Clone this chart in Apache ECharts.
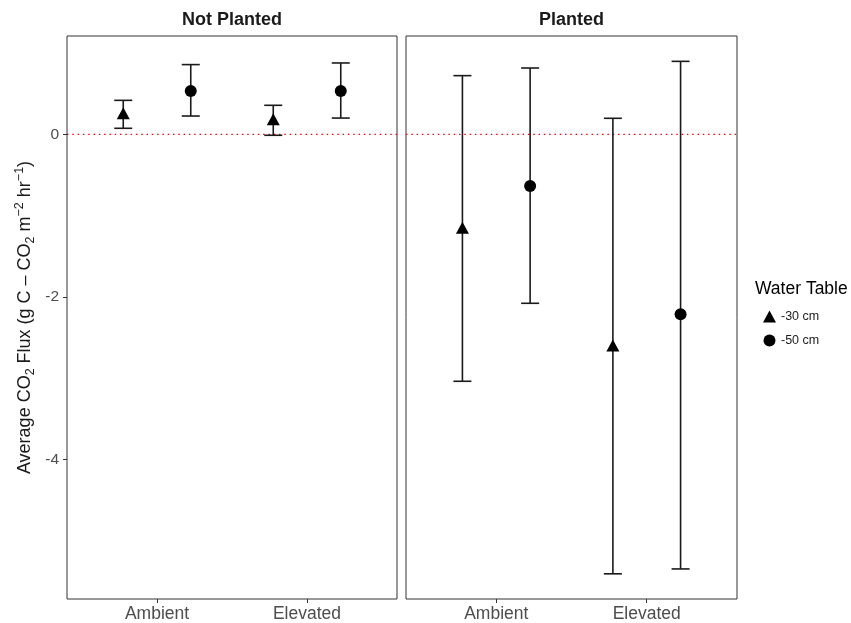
<!DOCTYPE html>
<html>
<head>
<meta charset="utf-8">
<script src="https://cdn.jsdelivr.net/npm/echarts@6/dist/echarts.min.js"></script>
<style>html,body{margin:0;padding:0;background:#fff;}#chart{width:851px;height:623px;}</style>
</head>
<body>
<div id="chart"></div>
<script>
// ---- data ----
const categories = ['Ambient', 'Elevated'];
const panels = ['Not Planted', 'Planted'];
const waterTables = ['-30 cm', '-50 cm'];
const yTicks = [-4, -2, 0];

// Not Planted
const notPlantedMean30 = [0.26, 0.185];
const notPlantedLow30 = [0.074, -0.012];
const notPlantedHigh30 = [0.418, 0.357];
const notPlantedMean50 = [0.533, 0.533];
const notPlantedLow50 = [0.225, 0.20];
const notPlantedHigh50 = [0.858, 0.878];
// Planted
const plantedMean30 = [-1.15, -2.60];
const plantedLow30 = [-3.04, -5.41];
const plantedHigh30 = [0.722, 0.197];
const plantedMean50 = [-0.636, -2.215];
const plantedLow50 = [-2.08, -5.35];
const plantedHigh50 = [0.816, 0.898];

const panelData = [
  { mean: [notPlantedMean30, notPlantedMean50], low: [notPlantedLow30, notPlantedLow50], high: [notPlantedHigh30, notPlantedHigh50] },
  { mean: [plantedMean30, plantedMean50], low: [plantedLow30, plantedLow50], high: [plantedHigh30, plantedHigh50] }
];

const dodge = [-0.225, 0.225];
const symbols = ['triangle', 'circle'];
const symbolSizes = [[13, 12], 12];
const ink = '#000000';
const FONT = 'Liberation Sans';

const chart = echarts.init(document.getElementById('chart'), null, { renderer: 'canvas' });

const grids = [
  { left: 67, right: 454, top: 36, bottom: 24, show: true, borderColor: '#333333', borderWidth: 1, containLabel: false },
  { left: 406, right: 114, top: 36, bottom: 24, show: true, borderColor: '#333333', borderWidth: 1, containLabel: false }
];

const xAxes = grids.map((g, gi) => ({
  type: 'value', gridIndex: gi, min: 0.4, max: 2.6, position: 'bottom',
  splitLine: { show: false },
  axisLine: { show: false, onZero: false },
  axisTick: { show: true, length: 4, customValues: [1, 2], lineStyle: { color: '#333333', width: 1 } },
  axisLabel: { show: true, customValues: [1, 2], formatter: v => categories[Math.round(v) - 1] || '',
    color: '#4d4d4d', fontSize: 17.5, fontFamily: FONT, margin: 6 }
}));

const yTitle = '{a|Average CO}{sub|2}{a| Flux (g C \u2013 CO}{sub|2}{a| m}{sup|\u22122}{a| hr}{sup|\u22121}{a|)}';

const yAxes = grids.map((g, gi) => ({
  type: 'value', gridIndex: gi, min: -5.72, max: 1.21,
  splitLine: { show: false },
  axisLine: { show: false, onZero: false },
  axisTick: { show: gi === 0, length: 4, customValues: yTicks, lineStyle: { color: '#333333', width: 1 } },
  axisLabel: { show: gi === 0, customValues: yTicks, color: '#4d4d4d', fontSize: 15.5, fontFamily: FONT, margin: 8,
    formatter: v => String(v) },
  name: gi === 0 ? yTitle : '',
  nameLocation: 'middle', nameRotate: 90, nameGap: 30,
  nameTextStyle: {
    fontFamily: FONT,
    rich: {
      a: { fontSize: 18, color: '#1a1a1a', fontFamily: FONT, lineHeight: 24 },
      sub: { fontSize: 12.5, color: '#1a1a1a', fontFamily: FONT, verticalAlign: 'bottom', lineHeight: 24 },
      sup: { fontSize: 12.5, color: '#1a1a1a', fontFamily: FONT, verticalAlign: 'top', lineHeight: 24 }
    }
  }
}));

const series = [];
panels.forEach((pName, pi) => {
  // zero reference line
  series.push({
    type: 'line', xAxisIndex: pi, yAxisIndex: pi, silent: true, symbol: 'none',
    data: [[0.4, 0], [2.6, 0]],
    lineStyle: { color: '#ff0000', width: 1.3, type: [1.5, 3.8] },
    z: 1
  });
  waterTables.forEach((wName, wi) => {
    const d = panelData[pi];
    const ebData = categories.map((c, ci) => [ci + 1 + dodge[wi], d.low[wi][ci], d.high[wi][ci]]);
    series.push({
      type: 'custom', xAxisIndex: pi, yAxisIndex: pi, silent: true,
      encode: { x: 0, y: [1, 2] },
      data: ebData,
      renderItem: (params, api) => {
        const x = api.value(0), lo = api.value(1), hi = api.value(2);
        const pLo = api.coord([x, lo]);
        const pHi = api.coord([x, hi]);
        const hw = 9;
        const st = { stroke: '#1a1a1a', lineWidth: 1.6 };
        return {
          type: 'group',
          children: [
            { type: 'line', shape: { x1: pLo[0], y1: pLo[1], x2: pHi[0], y2: pHi[1] }, style: st },
            { type: 'line', shape: { x1: pLo[0] - hw, y1: pLo[1], x2: pLo[0] + hw, y2: pLo[1] }, style: st },
            { type: 'line', shape: { x1: pHi[0] - hw, y1: pHi[1], x2: pHi[0] + hw, y2: pHi[1] }, style: st }
          ]
        };
      },
      z: 2
    });
    series.push({
      type: 'scatter', name: wName, xAxisIndex: pi, yAxisIndex: pi,
      symbol: symbols[wi], symbolSize: symbolSizes[wi],
      itemStyle: { color: ink, opacity: 1 },
      data: categories.map((c, ci) => [ci + 1 + dodge[wi], d.mean[wi][ci]]),
      z: 3
    });
  });
});

const option = {
  animation: false,
  backgroundColor: '#ffffff',
  grid: grids,
  xAxis: xAxes,
  yAxis: yAxes,
  legend: {
    data: [
      { name: waterTables[0], icon: 'triangle' },
      { name: waterTables[1], icon: 'circle' }
    ],
    orient: 'vertical', left: 763, top: 310, padding: 0,
    itemWidth: 13, itemHeight: 12, itemGap: 11,
    selectedMode: false,
    textStyle: { fontSize: 12.5, color: '#1a1a1a', fontFamily: FONT },
    itemStyle: { color: ink }
  },
  graphic: [
    { type: 'text', left: 755, top: 280, style: { text: 'Water Table', fontSize: 17.5, fill: '#000', fontFamily: FONT } },
    { type: 'text', x: 232, y: 20, style: { text: panels[0], fontSize: 18, fontWeight: 'bold', fill: '#1a1a1a', fontFamily: FONT, align: 'center', verticalAlign: 'middle' } },
    { type: 'text', x: 571.5, y: 20, style: { text: panels[1], fontSize: 18, fontWeight: 'bold', fill: '#1a1a1a', fontFamily: FONT, align: 'center', verticalAlign: 'middle' } }
  ],
  series: series
};
chart.setOption(option);
</script>
</body>
</html>
